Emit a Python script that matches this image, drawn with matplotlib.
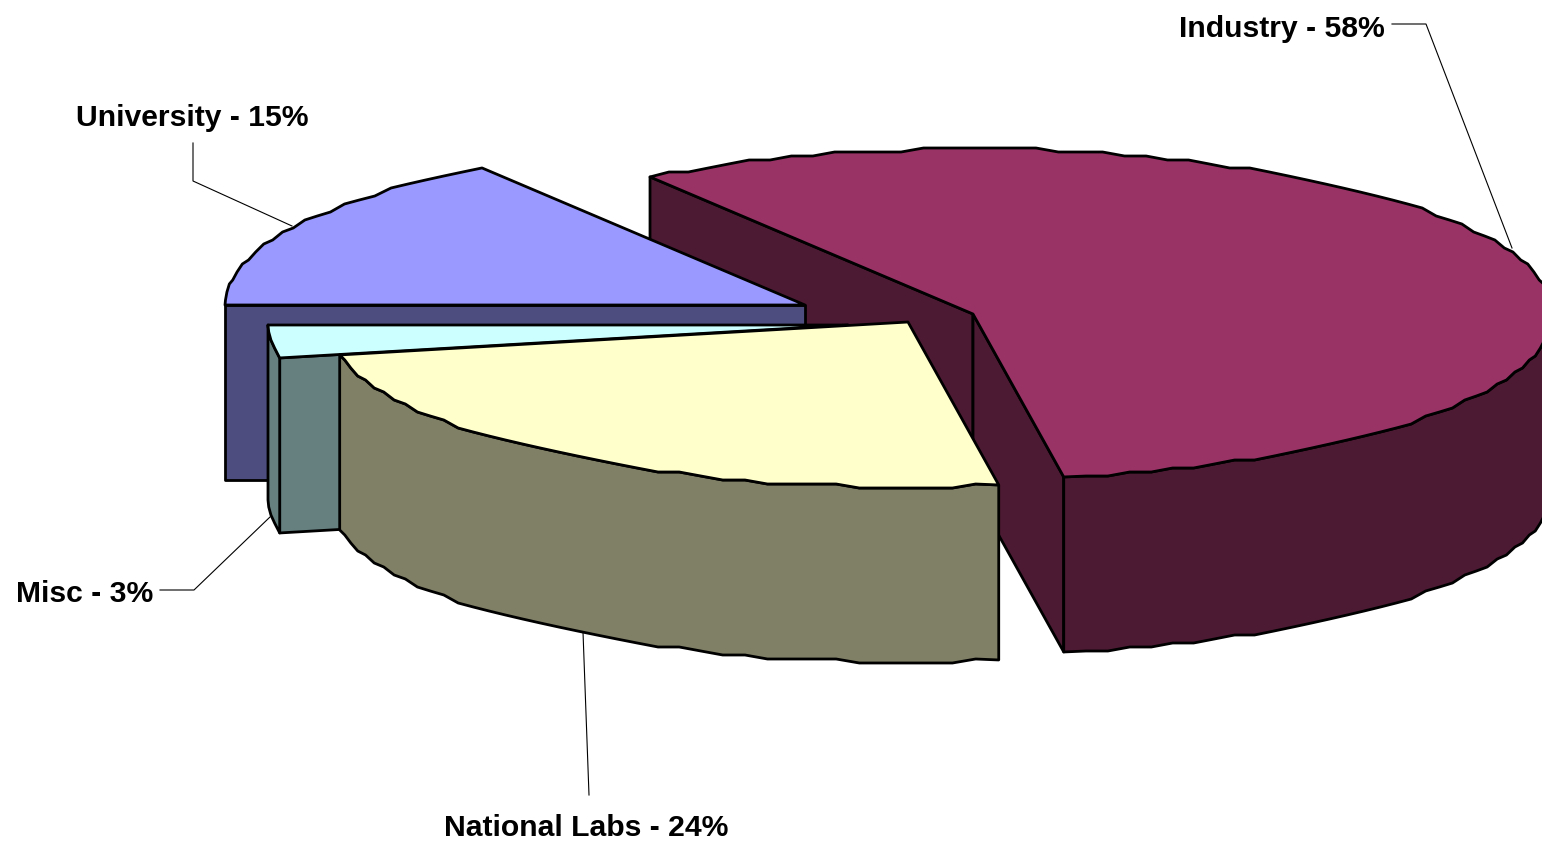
import numpy as np
from matplotlib import pyplot as plt
from matplotlib.patches import Polygon

names = ['University', 'Industry', 'National Labs', 'Misc']
label_pcts = [15, 58, 24, 3]
# slice sizes as measured on the drawing, they differ a bit from the printed labels
values = [15.6, 56.9, 24.3, 3.2]
top_colors = ['#9999FF', '#993366', '#FFFFCC', '#CCFFFF']
wall_colors = ['#4D4D80', '#4D1A33', '#808066', '#668080']

# apex of each exploded slice, in pixels
centers = {'University': (805, 305), 'Industry': (973, 314),
           'National Labs': (908, 322), 'Misc': (848, 325)}
rx, ry = 580, 165
depth = 175
start_angle = 180
snap = 4

fig = plt.figure(figsize=(15.42, 8.41), dpi=100)
ax = fig.add_axes([0, 0, 1, 1])
ax.set_xlim(0, 1542)
ax.set_ylim(841, 0)
ax.axis('off')


def rim(name, t0, t1):
    # rim of the slice, stepped like the coarse original outline
    cx, cy = centers[name]
    n = max(int(abs(t1 - t0) / 2.2), 2)
    t = np.linspace(t0, t1, n)
    x = cx + rx * np.cos(np.radians(t))
    y = cy - ry * np.sin(np.radians(t))
    y[1:-1] = np.round(y[1:-1] / snap) * snap
    return t, np.column_stack([x, y])


def poly(pts, color, z, lw=2.0):
    ax.add_patch(Polygon(pts, closed=True, facecolor=color, edgecolor='black',
                         linewidth=lw, joinstyle='round', zorder=z))


angles = start_angle - np.cumsum([0] + values) * 3.6
order = ['Industry', 'University', 'Misc', 'National Labs']
for z, name in enumerate(order):
    i = names.index(name)
    t0, t1 = angles[i], angles[i + 1]
    c = np.array(centers[name], dtype=float)
    t, edge = rim(name, t0, t1)
    down = np.array([0, depth])
    base = z * 10
    # cut faces, only the ones turned to the viewer
    if np.cos(np.radians(t0)) < 0:
        poly([c, edge[0], edge[0] + down, c + down], wall_colors[i], base + 1)
    if np.cos(np.radians(t1)) > 0:
        poly([c, edge[-1], edge[-1] + down, c + down], wall_colors[i], base + 1)
    # outer wall on the front half of the rim
    front = edge[np.sin(np.radians(t)) <= 0.001]
    if len(front) > 1:
        poly(np.vstack([front, (front + down)[::-1]]), wall_colors[i], base + 2)
    poly(np.vstack([c, edge]), top_colors[i], base + 3)

leaders = [
    [(1392, 24), (1426, 24), (1512, 248)],
    [(193, 143), (193, 181), (292, 226)],
    [(160, 590), (194, 590), (270, 517)],
    [(583, 632), (589, 795)],
]
for line in leaders:
    xs, ys = zip(*line)
    ax.plot(xs, ys, color='black', lw=0.8, zorder=60)

label_pos = {'Industry': (1282, 29), 'University': (192, 118),
             'Misc': (85, 594), 'National Labs': (586, 828)}
for name, pct in zip(names, label_pcts):
    x, y = label_pos[name]
    ax.text(x, y, f'{name} - {pct}%', family='Liberation Sans', weight='bold',
            fontsize=21.7, ha='center', va='center', zorder=70)

fig.savefig('out.png', dpi=100)
